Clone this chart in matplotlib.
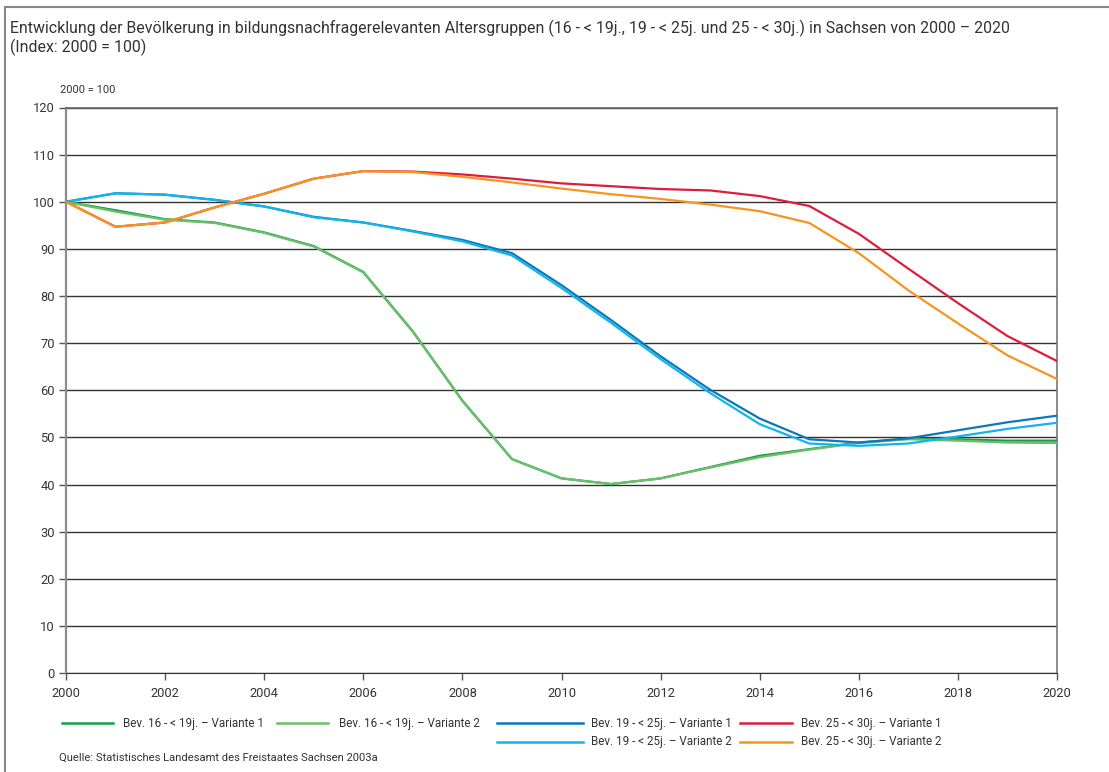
"""
Bevölkerungsentwicklung Sachsen 2000-2020 (Index 2000 = 100)
"""

import matplotlib
matplotlib.use("Agg")
import matplotlib.pyplot as plt
from matplotlib.lines import Line2D

# ===================== Daten =====================
years = list(range(2000, 2021))

bev_16_19_v1 = [100, 98.2, 96.3, 95.6, 93.5, 90.6, 85.1, 72.5, 57.8, 45.4, 41.3,
                40.1, 41.3, 43.7, 46.1, 47.5, 48.9, 49.7, 49.6, 49.3, 49.3]
bev_16_19_v2 = [100, 97.9, 96.2, 95.5, 93.4, 90.5, 85.0, 72.4, 57.7, 45.4, 41.3,
                40.1, 41.3, 43.6, 45.8, 47.4, 48.8, 49.6, 49.3, 48.9, 48.8]
bev_19_25_v1 = [100, 101.8, 101.5, 100.4, 99.0, 96.8, 95.6, 93.8, 91.9, 89.1, 82.3,
                74.9, 67.2, 60.1, 54.0, 49.6, 48.9, 49.8, 51.5, 53.2, 54.6]
bev_19_25_v2 = [100, 101.8, 101.5, 100.4, 99.0, 96.7, 95.6, 93.7, 91.6, 88.6, 81.7,
                74.3, 66.6, 59.4, 52.8, 48.7, 48.2, 48.7, 50.2, 51.8, 53.1]
bev_25_30_v1 = [100, 94.7, 95.6, 98.8, 101.7, 104.9, 106.5, 106.4, 105.8, 104.9, 103.9,
                103.3, 102.7, 102.4, 101.2, 99.1, 93.2, 85.8, 78.5, 71.5, 66.2]
bev_25_30_v2 = [100, 94.7, 95.6, 98.8, 101.7, 104.9, 106.5, 106.3, 105.3, 104.1, 102.8,
                101.6, 100.6, 99.4, 98.0, 95.5, 89.1, 81.2, 74.2, 67.4, 62.4]

labels = [
    "Bev. 16 - < 19j. – Variante 1",
    "Bev. 16 - < 19j. – Variante 2",
    "Bev. 19 - < 25j. – Variante 1",
    "Bev. 19 - < 25j. – Variante 2",
    "Bev. 25 - < 30j. – Variante 1",
    "Bev. 25 - < 30j. – Variante 2",
]
colors = ["#1a9c4a", "#6cbf6a", "#0a78b9", "#12b4ea", "#dc1d3e", "#f7941f"]
series = [bev_16_19_v1, bev_16_19_v2, bev_19_25_v1, bev_19_25_v2, bev_25_30_v1, bev_25_30_v2]

x_ticks = list(range(2000, 2021, 2))
y_ticks = list(range(0, 121, 10))

title = ("Entwicklung der Bevölkerung in bildungsnachfragerelevanten Altersgruppen "
         "(16 - < 19j., 19 - < 25j. und 25 - < 30j.) in Sachsen von 2000 – 2020\n"
         "(Index: 2000 = 100)")
quelle = "Quelle: Statistisches Landesamt des Freistaates Sachsen 2003a"

# ===================== Plot =====================
plt.rcParams["font.family"] = ["Roboto", "DejaVu Sans"]
TXT = "#333333"
W, H = 1109, 772

fig = plt.figure(figsize=(W / 100, H / 100), dpi=100)
ax = fig.add_axes([66 / W, 1 - 673 / H, (1057 - 66) / W, (673 - 107.5) / H])

for yv in y_ticks:
    ax.axhline(yv, color="#333333", linewidth=1.0, zorder=1)

for vals, col in zip(series, colors):
    ax.plot(years, vals, color=col, linewidth=1.6, zorder=3)

ax.set_xlim(2000, 2020)
ax.set_ylim(0, 120)
ax.set_xticks(x_ticks)
ax.set_yticks(y_ticks)
ax.tick_params(axis="both", direction="out", length=5, width=1, color="#555555",
               labelsize=9.3, labelcolor=TXT)
ax.tick_params(axis="x", pad=5)
ax.tick_params(axis="y", pad=3)
ax.spines["left"].set_color("#8c8c8c")
ax.spines["left"].set_linewidth(1.6)
ax.spines["right"].set_color("#777777")
ax.spines["right"].set_linewidth(1.2)
ax.spines["top"].set_color("#666666")
ax.spines["top"].set_linewidth(1.2)
ax.spines["bottom"].set_color("#333333")

# Titel, Achsenbeschriftung, Quelle
fig.text(10 / W, 1 - 38 / H, title, ha="left", va="center", fontsize=11.4,
         color=TXT, linespacing=1.15)
fig.text(60 / W, 1 - 90 / H, "2000 = 100", ha="left", va="center", fontsize=8, color=TXT)
fig.text(59 / W, 1 - 758 / H, quelle, ha="left", va="center", fontsize=8.1, color=TXT)

# Legende (manuell positioniert)
leg_pos = [(62, 113, 123, 723), (277, 328, 339, 723), (497, 583, 591, 723),
           (497, 583, 591, 741.5), (740, 792, 801, 723), (740, 792, 801, 741.5)]
for (x0, x1, xt, yy), lab, col in zip(leg_pos, labels, colors):
    fig.add_artist(Line2D([x0 / W, x1 / W], [1 - yy / H, 1 - yy / H],
                          color=col, linewidth=1.8, transform=fig.transFigure))
    fig.text(xt / W, 1 - yy / H, lab, ha="left", va="center", fontsize=8.4, color=TXT)

# Rahmen oben und links
fig.add_artist(Line2D([5 / W, 1], [1 - 7 / H, 1 - 7 / H], color="#888888",
                      linewidth=1.5, transform=fig.transFigure))
fig.add_artist(Line2D([5 / W, 5 / W], [0, 1 - 7 / H], color="#888888",
                      linewidth=1.5, transform=fig.transFigure))

fig.savefig("out.png", dpi=100)
